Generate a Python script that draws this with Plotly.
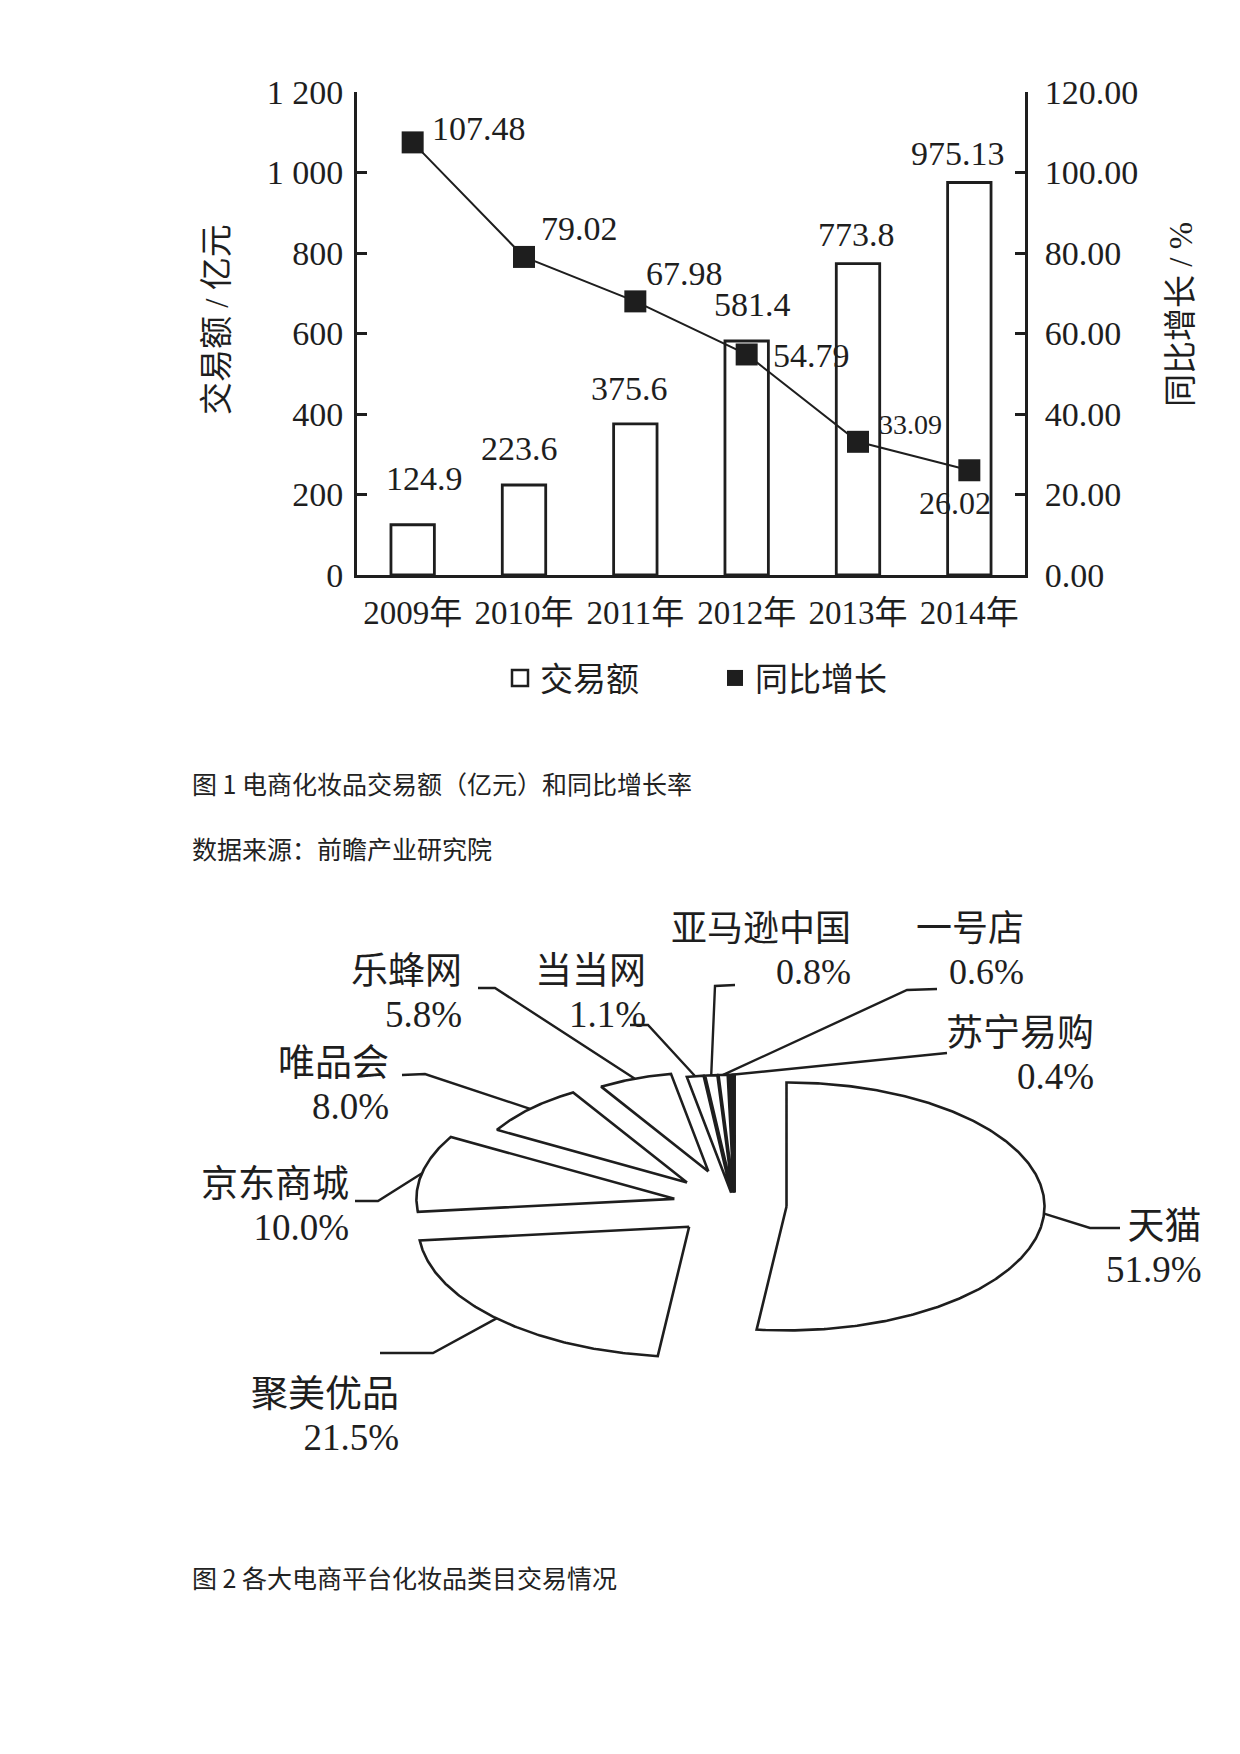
import math
import numpy as np
import plotly.graph_objects as go

# ---------------- data ----------------
years = ['2009年', '2010年', '2011年', '2012年', '2013年', '2014年']
amount = [124.9, 223.6, 375.6, 581.4, 773.8, 975.13]
amount_text = ['124.9', '223.6', '375.6', '581.4', '773.8', '975.13']
growth = [107.48, 79.02, 67.98, 54.79, 33.09, 26.02]
growth_text = ['107.48', '79.02', '67.98', '54.79', '33.09', '26.02']
y1_ticks = [0, 200, 400, 600, 800, 1000, 1200]
y1_ticktext = ['0', '200', '400', '600', '800', '1 000', '1 200']
y2_ticks = [0, 20, 40, 60, 80, 100, 120]
y2_ticktext = ['0.00', '20.00', '40.00', '60.00', '80.00', '100.00', '120.00']

platforms = ['天猫', '聚美优品', '京东商城', '唯品会', '乐蜂网', '当当网', '亚马逊中国', '一号店', '苏宁易购']
shares = [51.9, 21.5, 10.0, 8.0, 5.8, 1.1, 0.8, 0.6, 0.4]
share_text = ['51.9%', '21.5%', '10.0%', '8.0%', '5.8%', '1.1%', '0.8%', '0.6%', '0.4%']

# ---------------- style / layout ----------------
W, H = 1240, 1754
OFF = 8  # default page body margin
SERIF = "Liberation Serif, Noto Sans CJK SC, serif"
CJK = "Noto Sans CJK SC, sans-serif"
INK = '#1e1e1e'


def px(x):
    return (x - OFF) / W


def py(y):
    return 1 - (y - OFF) / H


fig = go.Figure()

# ---- figure 1 ----
fig.add_trace(go.Bar(
    x=years, y=amount, width=0.39,
    marker=dict(color='white', line=dict(color=INK, width=2.8)),
    showlegend=False, hoverinfo='skip', xaxis='x', yaxis='y'))
fig.add_trace(go.Scatter(
    x=years, y=growth, mode='lines+markers', xaxis='x', yaxis='y2',
    line=dict(color=INK, width=2),
    marker=dict(symbol='square', size=22, color=INK),
    showlegend=False, hoverinfo='skip'))
# legend entries
fig.add_trace(go.Scatter(
    x=[None], y=[None], mode='markers', name='交易额', xaxis='x', yaxis='y',
    marker=dict(symbol='square-open', size=20, color=INK, line=dict(width=2.5, color=INK))))
fig.add_trace(go.Scatter(
    x=[None], y=[None], mode='markers', name='同比增长', xaxis='x', yaxis='y2',
    marker=dict(symbol='square', size=20, color=INK)))

annotations = []
bar_label_shift = [(12, 46), (-5, 37), (-6, 35), (6, 36), (-2, 29), (-11, 29)]
for i, (yr, v, t) in enumerate(zip(years, amount, amount_text)):
    dx, dy = bar_label_shift[i]
    annotations.append(dict(x=yr, y=v, xref='x', yref='y', text=t, showarrow=False,
                            xanchor='center', yanchor='middle', xshift=dx, yshift=dy,
                            font=dict(family=SERIF, size=34, color=INK)))
growth_label_shift = [(66, 14, 34), (55, 28, 34), (49, 28, 34), (65, -1, 34), (52, 17, 28), (-14, -33, 32)]
for i, (yr, v, t) in enumerate(zip(years, growth, growth_text)):
    dx, dy, fs = growth_label_shift[i]
    annotations.append(dict(x=yr, y=v, xref='x', yref='y2', text=t, showarrow=False,
                            xanchor='center', yanchor='middle', xshift=dx, yshift=dy,
                            font=dict(family=SERIF, size=fs, color=INK)))

annotations.append(dict(x=px(217), y=py(320), xref='paper', yref='paper', text='交易额 / 亿元',
                        textangle=-90, showarrow=False, xanchor='center', yanchor='middle',
                        font=dict(family=SERIF, size=33, color=INK)))
annotations.append(dict(x=px(1181), y=py(315), xref='paper', yref='paper', text='同比增长 / %',
                        textangle=-90, showarrow=False, xanchor='center', yanchor='middle',
                        font=dict(family=SERIF, size=33, color=INK)))

captions = [('图 1 电商化妆品交易额（亿元）和同比增长率', 783),
            ('数据来源：前瞻产业研究院', 848),
            ('图 2 各大电商平台化妆品类目交易情况', 1577)]
for txt, yc in captions:
    annotations.append(dict(x=px(190), y=py(yc), xref='paper', yref='paper', text=txt,
                            showarrow=False, xanchor='left', yanchor='middle',
                            font=dict(family=CJK, size=25, color='#222222')))

# ---- figure 2: exploded (flattened) pie drawn on cartesian axes ----
CX, CY, RX, RY = 735, 1205, 258, 124   # pie centre and radii in page pixels
pulls = [0.2, 0.25, 0.24, 0.26, 0.29, 0.1, 0.1, 0.1, 0.1]
scales = [1.0, 1.05, 1.0, 0.85, 0.8, 0.95, 0.95, 0.95, 0.95]
fills = ['white'] * 8 + [INK]


def to_u(xp, yp):
    return (xp - CX) / RX, (CY - yp) / RY


total = sum(shares)
cum = 0.0
slice_geom = []
for i, s in enumerate(shares):
    a0 = cum / total * 360.0
    a1 = (cum + s) / total * 360.0
    cum += s
    mid = math.radians((a0 + a1) / 2)
    ax, ay = pulls[i] * math.sin(mid), pulls[i] * math.cos(mid)
    r = scales[i]
    th = np.radians(np.linspace(a0, a1, max(int(a1 - a0) * 2 + 2, 4)))
    xs = [ax] + list(ax + r * np.sin(th)) + [ax]
    ys = [ay] + list(ay + r * np.cos(th)) + [ay]
    fig.add_trace(go.Scatter(x=xs, y=ys, mode='lines', fill='toself', fillcolor=fills[i],
                             line=dict(color=INK, width=2.6), xaxis='x2', yaxis='y3',
                             showlegend=False, hoverinfo='skip'))
    slice_geom.append((ax + r * math.sin(mid), ay + r * math.cos(mid)))

# label layout: (elbow px, end px, label right edge x, label centre y, glyph size)
label_layout = [
    ((1090, 1228), (1120, 1228), 1204, 1243, 37),
    ((433, 1353), (380, 1353), 401, 1411, 37),
    ((378, 1201), (355, 1201), 351, 1201, 37),
    ((425, 1074), (402, 1075), 391, 1080, 37),
    ((495, 988), (478, 988), 464, 988, 37),
    ((648, 1025), (630, 1025), 648, 988, 37),
    ((715, 986), (735, 985), 853, 945, 36),
    ((907, 990), (937, 989), 1026, 945, 36),
    ((947, 1053), (947, 1053), 1096, 1050, 37),
]
lx, ly = [], []
for i, name in enumerate(platforms):
    (ex, ey), (tx, ty), rx_, yc, gs = label_layout[i]
    sx, sy = slice_geom[i]
    e = to_u(ex, ey)
    t = to_u(tx, ty)
    lx += [sx, e[0], t[0], None]
    ly += [sy, e[1], t[1], None]
    txt = ('<span style="font-family:Noto Sans CJK SC;font-size:%dpx">' % gs + name + '</span><br>'
           '<span style="font-size:%dpx">' % gs + share_text[i] + '</span>')
    annotations.append(dict(x=px(rx_), y=py(yc), xref='paper', yref='paper', text=txt,
                            showarrow=False, xanchor='right', yanchor='middle', align='right',
                            font=dict(family=SERIF, size=33, color=INK)))
fig.add_trace(go.Scatter(x=lx, y=ly, mode='lines', line=dict(color=INK, width=2.4),
                         xaxis='x2', yaxis='y3', showlegend=False, hoverinfo='skip'))

PIE_TOP, PIE_BOT = 880, 1480
fig.update_layout(
    width=W, height=H,
    margin=dict(l=0, r=0, t=0, b=0),
    paper_bgcolor='white', plot_bgcolor='white',
    showlegend=True,
    legend=dict(orientation='h', x=px(500), xanchor='left', y=py(678), yanchor='middle',
                font=dict(family=CJK, size=33, color=INK), entrywidth=170, entrywidthmode='pixels',
                bgcolor='rgba(0,0,0,0)'),
    xaxis=dict(domain=[px(357), px(1025)], type='category', range=[-0.5, 5.5],
               showline=True, linecolor=INK, linewidth=2.8, ticks='', showgrid=False,
               zeroline=False, tickfont=dict(family=SERIF, size=33, color=INK),
               ticklabelstandoff=6, anchor='y', automargin=False, fixedrange=True),
    yaxis=dict(domain=[py(575), py(92)], range=[0, 1200], tickvals=y1_ticks, ticktext=y1_ticktext,
               showline=True, linecolor=INK, linewidth=2.8, ticks='inside', ticklen=10,
               tickwidth=2.5, tickcolor=INK, showgrid=False, zeroline=False,
               tickfont=dict(family=SERIF, size=34, color=INK), ticklabelstandoff=4,
               anchor='x', automargin=False, fixedrange=True),
    yaxis2=dict(domain=[py(575), py(92)], range=[0, 120], tickvals=y2_ticks, ticktext=y2_ticktext,
                overlaying='y', side='right', anchor='x',
                showline=True, linecolor=INK, linewidth=2.8, ticks='inside', ticklen=10,
                tickwidth=2.5, tickcolor=INK, showgrid=False, zeroline=False,
                tickfont=dict(family=SERIF, size=34, color=INK), ticklabelstandoff=10,
                automargin=False, fixedrange=True),
    xaxis2=dict(domain=[px(OFF), px(W)], range=[(OFF - CX) / RX, (W - CX) / RX], visible=False,
                anchor='y3', fixedrange=True),
    yaxis3=dict(domain=[py(PIE_BOT), py(PIE_TOP)], range=[(CY - PIE_BOT) / RY, (CY - PIE_TOP) / RY],
                visible=False, anchor='x2', fixedrange=True),
    annotations=annotations,
)

fig.write_html("out.html")
